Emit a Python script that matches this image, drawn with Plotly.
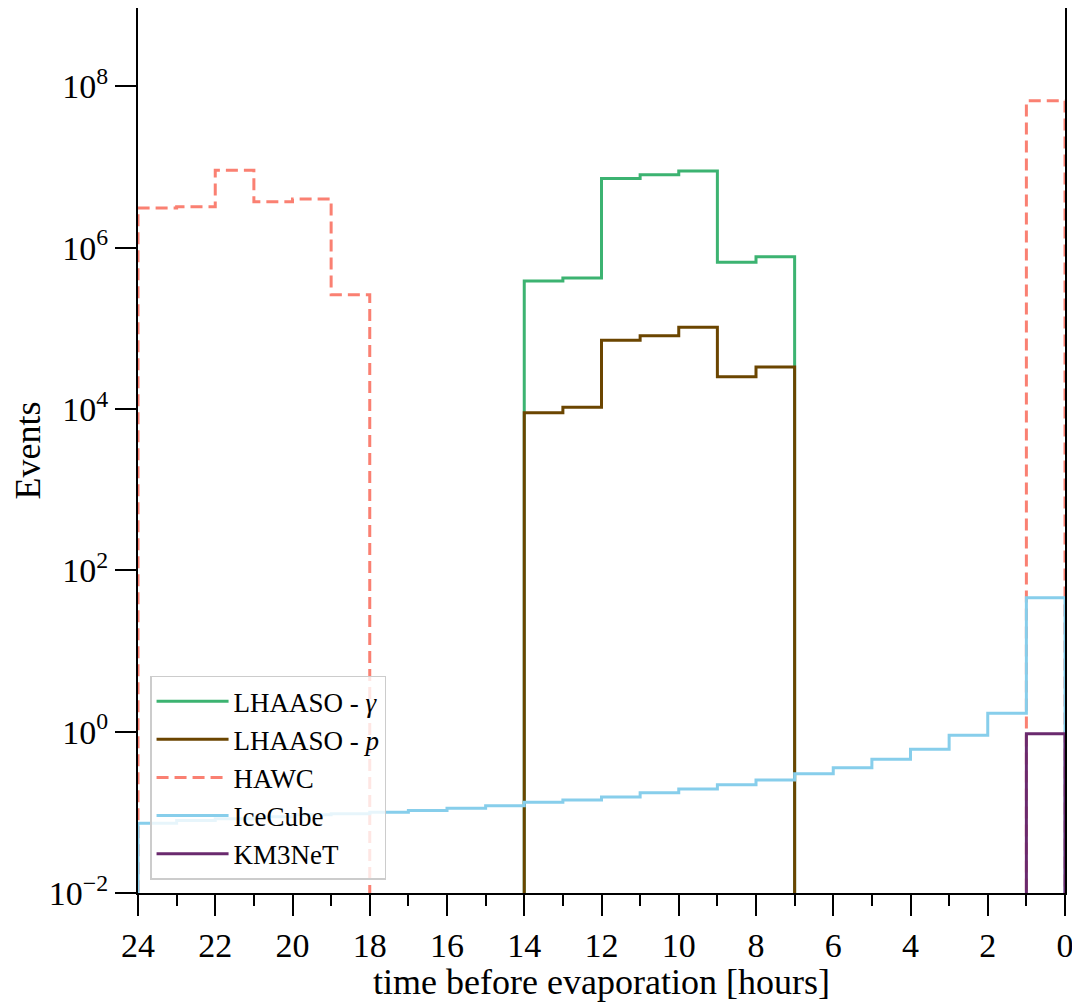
import plotly.graph_objects as go

# Bin edges in hours before evaporation (24 -> 0), one value per 1-hour bin
bin_edges = [24, 23, 22, 21, 20, 19, 18, 17, 16, 15, 14, 13, 12, 11, 10, 9, 8, 7, 6, 5, 4, 3, 2, 1, 0]

lhaaso_gamma = [0, 0, 0, 0, 0, 0, 0, 0, 0, 0,
                3.85e5, 4.2e5, 7.2e6, 8.0e6, 8.9e6, 6.6e5, 7.7e5,
                0, 0, 0, 0, 0, 0, 0]
lhaaso_p = [0, 0, 0, 0, 0, 0, 0, 0, 0, 0,
            9.0e3, 1.05e4, 7.1e4, 8.1e4, 1.03e5, 2.5e4, 3.3e4,
            0, 0, 0, 0, 0, 0, 0]
hawc = [3.1e6, 3.2e6, 9.1e6, 3.7e6, 4.0e6, 2.6e5,
        0, 0, 0, 0, 0, 0, 0, 0, 0, 0, 0, 0, 0, 0, 0, 0, 0,
        6.6e7]
icecube = [0.073, 0.079, 0.083, 0.088, 0.093, 0.096, 0.100, 0.105, 0.112, 0.121,
           0.133, 0.142, 0.155, 0.175, 0.195, 0.22, 0.252, 0.30, 0.358, 0.455,
           0.605, 0.90, 1.69, 45.7]
km3net = [0, 0, 0, 0, 0, 0, 0, 0, 0, 0, 0, 0, 0, 0, 0, 0, 0, 0, 0, 0, 0, 0, 0, 0.94]

series_names = ["LHAASO - <i>γ</i>", "LHAASO - <i>p</i>", "HAWC", "IceCube", "KM3NeT"]
series_values = [lhaaso_gamma, lhaaso_p, hawc, icecube, km3net]
colors = ["#3cb371", "#6b4500", "#fa8072", "#87ceeb", "#6a2a6e"]
dashes = ["solid", "solid", "12px,6px", "solid", "solid"]

x_tick_vals = list(range(0, 25, 2))
x_minor_vals = list(range(1, 25, 2))
y_tick_exps = [-2, 0, 2, 4, 6, 8]

FLOOR = 1e-4  # below visible range: stands in for empty bins on the log axis


def step_path(edges, vals):
    xs, ys = [edges[0]], [FLOOR]
    for i, v in enumerate(vals):
        vv = v if v > 0 else FLOOR
        xs += [edges[i], edges[i + 1]]
        ys += [vv, vv]
    xs.append(edges[-1])
    ys.append(FLOOR)
    return xs, ys


FONT = "Liberation Serif"
fig = go.Figure()
for name, vals, col, dash in zip(series_names, series_values, colors, dashes):
    xs, ys = step_path(bin_edges, vals)
    fig.add_trace(go.Scatter(
        x=xs, y=ys, mode="lines", name=name,
        line=dict(color=col, width=3, dash=dash),
        hoverinfo="skip",
    ))

# page body has an 8px margin, so the figure is sized to fill the rest of the window
fig.update_layout(
    width=1072, height=994,
    margin=dict(l=130, r=15, t=0, b=109),
    paper_bgcolor="white", plot_bgcolor="white",
    font=dict(family=FONT, size=34, color="black"),
    showlegend=True,
    legend=dict(
        x=0.013, y=0.015, xanchor="left", yanchor="bottom",
        bgcolor="rgba(255,255,255,0.8)", bordercolor="#cccccc", borderwidth=1.5,
        font=dict(family=FONT, size=27, color="black"),
        itemwidth=72, tracegroupgap=0,
    ),
)

fig.update_xaxes(
    range=[24, 0], tickmode="array", tickvals=x_tick_vals,
    ticks="outside", ticklen=21, tickwidth=2, tickcolor="black",
    minor=dict(tickmode="array", tickvals=x_minor_vals, ticks="outside",
               ticklen=11, tickwidth=1.5, tickcolor="black"),
    showline=True, linecolor="black", linewidth=2, mirror=True,
    showgrid=False, zeroline=False, automargin=False,
    title=dict(text="time before evaporation [hours]", standoff=0,
               font=dict(family=FONT, size=36)),
    tickfont=dict(family=FONT, size=34),
)
fig.update_yaxes(
    type="log", range=[-2, 8.97], tickmode="array",
    tickvals=[10.0 ** e for e in y_tick_exps],
    ticktext=["10<sup>%s</sup>" % (str(e).replace("-", "−")) for e in y_tick_exps],
    ticks="outside", ticklen=21, tickwidth=2, tickcolor="black",
    showline=True, linecolor="black", linewidth=2, mirror=True,
    showgrid=False, zeroline=False, automargin=False,
    title=dict(text="Events", standoff=0, font=dict(family=FONT, size=36)),
    tickfont=dict(family=FONT, size=34),
)

fig.write_html("out.html")
